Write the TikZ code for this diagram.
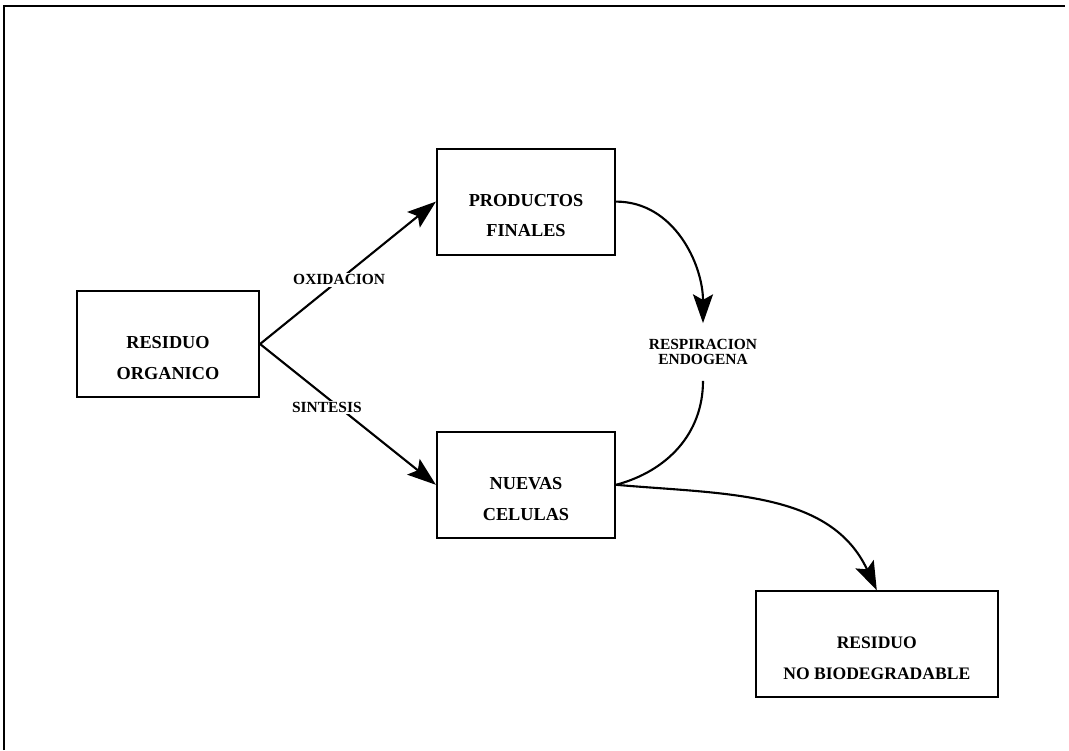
\documentclass[tikz,border=0pt]{standalone}
\usepackage{fontspec}
\setmainfont{Liberation Serif}
\usetikzlibrary{arrows.meta}
\newcommand{\boxdrop}{\rule{0pt}{1.0cm}}

\begin{document}
\begin{tikzpicture}
		[block/.style ={rectangle, draw=black, line width=1.5pt, minimum width=4.45cm, minimum height=2.65cm, align=center, font=\fontsize{13}{22}\selectfont\bfseries},
		wide/.style = {block, minimum width=6.05cm, font=\fontsize{12.5}{22}\selectfont\bfseries},
		line/.style ={draw, line width=1.5pt, -{Stealth[length=0.72cm,width=0.5cm,inset=0.14cm]}},
		tag/.style = {fill=white, inner sep=1pt, font=\fontsize{11}{10.5}\selectfont\bfseries, align=center},
		]
		\useasboundingbox (0,0) rectangle (26.725,-18.75);
		\draw[line width=2pt] (0.1,-18.75) -- (0.1,-0.15) -- (26.62,-0.15);

		\draw (4.2,-8.6) node[block, minimum width=4.55cm] (RO) {\boxdrop RESIDUO\\ORGANICO};
		\draw (13.15,-5.04) node[block] (PF) {\boxdrop PRODUCTOS\\FINALES};
		\draw (13.15,-12.12) node[block] (NC) {\boxdrop NUEVAS\\CELULAS};
		\draw (21.92,-16.11) node[wide] (NB) {\boxdrop RESIDUO\\NO BIODEGRADABLE};
		\draw (17.575,-8.8) node[tag, inner ysep=0.4cm] (RE) {RESPIRACION\\ENDOGENA};

		\path
		(RO.east) edge[line] node[tag, pos=0.45] {OXIDACION} (PF.west)
		(RO.east) edge[line] node[tag, pos=0.38, yshift=-0.25cm] {SINTESIS} (NC.west)
		(PF.east) edge[line, out=0, in=90] (RE.north)
		(NC.east) edge[line, out=-5, in=115] (NB.north);
		\draw[line width=1.5pt] (RE.south) to[out=-90,in=15] (NC.east);

	\end{tikzpicture}
\end{document}
